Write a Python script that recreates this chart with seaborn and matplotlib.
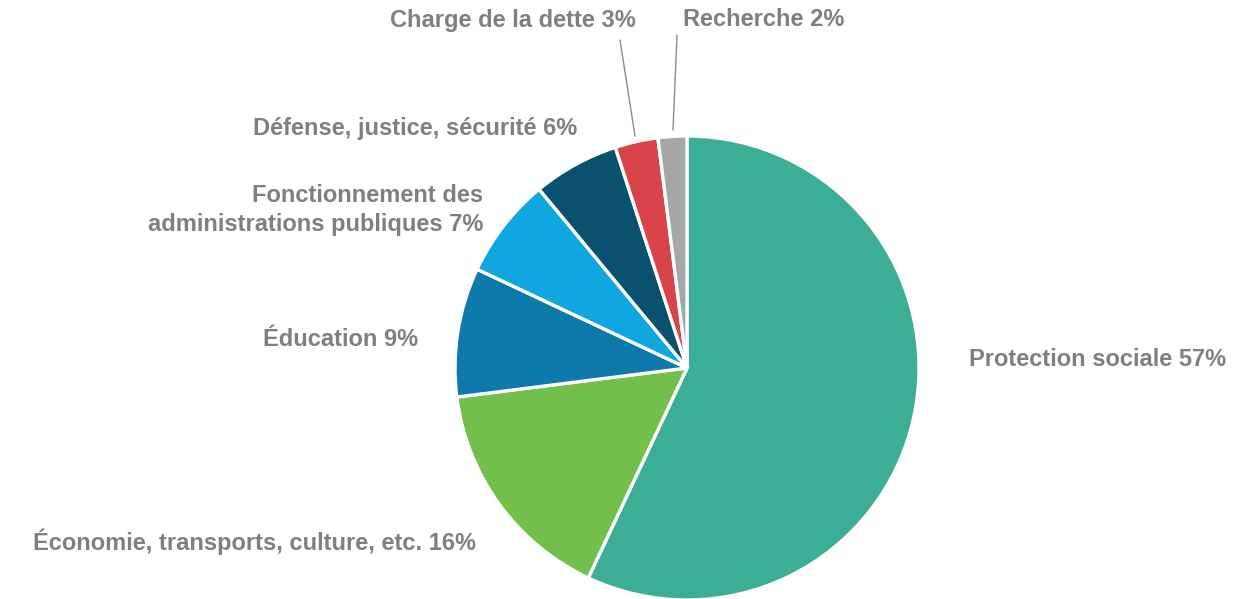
import matplotlib
matplotlib.use("Agg")
import matplotlib.pyplot as plt
import seaborn as sns

categories = ["Protection sociale", "Économie, transports, culture, etc.", "Éducation",
              "Fonctionnement des\nadministrations publiques", "Défense, justice, sécurité",
              "Charge de la dette", "Recherche"]
values = [57, 16, 9, 7, 6, 3, 2]
colors = ["#3DAE96", "#72BF4B", "#0E7AAB", "#10A6E0", "#0A516F", "#D9434A", "#A6A6A6"]

sns.set_theme(style="white")
plt.rcParams['font.family'] = ['Liberation Sans', 'DejaVu Sans']

W, H = 1253, 599
fig = plt.figure(figsize=(W / 100, H / 100), dpi=100)
ax = fig.add_axes([0, 0, 1, 1])

cx, cy, r = 687, H - 368, 232
ax.pie(values, colors=colors, startangle=90, counterclock=False, center=(cx, cy), radius=r,
       wedgeprops=dict(edgecolor="white", linewidth=2.4), frame=True)
ax.set_xlim(0, W)
ax.set_ylim(0, H)
ax.set_aspect("equal")
ax.axis("off")

tc = "#7F7F7F"
fs = 17
labels = [f"{c} {v}%" for c, v in zip(categories, values)]
# (x, y, ha) in pixel coordinates from top-left
pos = [(969, 360, "left"), (476, 542, "right"), (418, 340, "right"), (483, 210, "right"),
       (577, 128, "right"), (636, 20, "right"), (683, 20, "left")]
for lab, (x, y, ha) in zip(labels, pos):
    ax.text(x, H - y, lab, ha=ha, va="center", color=tc, fontsize=fs, fontweight="bold",
            linespacing=1.3, multialignment="right")

# leader lines
ax.plot([620, 635], [H - 40, H - 136], color="#8C8C8C", lw=1)
ax.plot([677, 673], [H - 35, H - 130], color="#8C8C8C", lw=1)

fig.savefig("out.png", dpi=100, facecolor="white")
